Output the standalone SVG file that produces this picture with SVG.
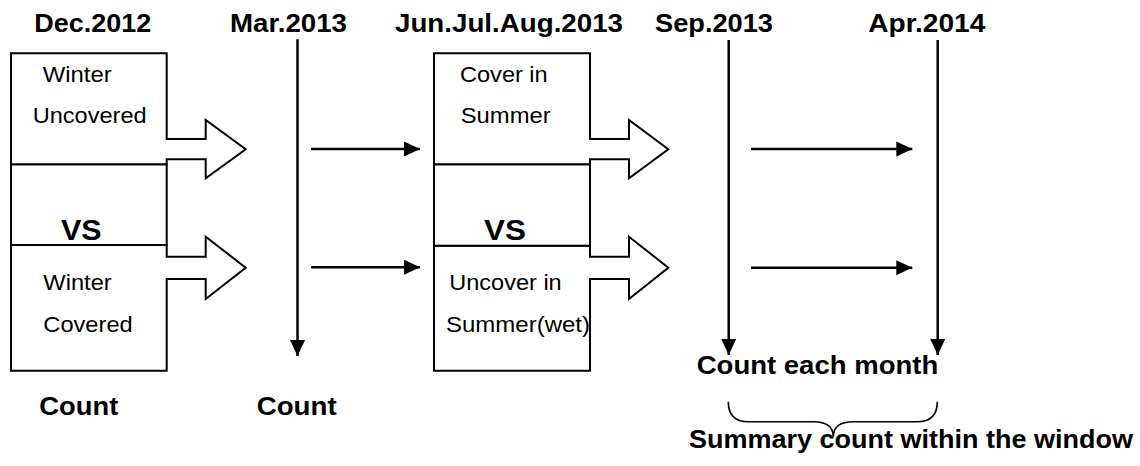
<svg xmlns="http://www.w3.org/2000/svg" width="1140" height="466" viewBox="0 0 1140 466">
<style>
.t{font-family:"Liberation Sans",Arial,sans-serif;fill:#000}
.b{font-weight:bold;font-size:26px}
.r{font-size:22.5px}
.vs{font-weight:bold;font-size:29px}
.shape{fill:#fff;stroke:#000;stroke-width:2;stroke-linejoin:miter}
.conn{fill:none;stroke:#000;stroke-width:2.5}
.brace{fill:none;stroke:#000;stroke-width:1.6}
</style>
<defs>
<marker id="ah" viewBox="0 0 16 16" refX="16" refY="8" markerWidth="16" markerHeight="16" markerUnits="userSpaceOnUse" orient="auto">
<path d="M0,0.5 L16,8 L0,15.5 Z" fill="#000"/>
</marker>
</defs>
<rect width="1140" height="466" fill="#fff"/>

<g id="titles">
<text class="t b" x="34.3" y="31.7" textLength="117" lengthAdjust="spacingAndGlyphs">Dec.2012</text>
<text class="t b" x="230" y="31.7" textLength="117" lengthAdjust="spacingAndGlyphs">Mar.2013</text>
<text class="t b" x="395" y="31.7" textLength="228" lengthAdjust="spacingAndGlyphs">Jun.Jul.Aug.2013</text>
<text class="t b" x="655" y="31.7" textLength="118" lengthAdjust="spacingAndGlyphs">Sep.2013</text>
<text class="t b" x="868.3" y="31.7" textLength="117" lengthAdjust="spacingAndGlyphs">Apr.2014</text>
</g>

<g id="winter-vs">
<path class="shape" d="M11,245 H166.7 V256.7 H205.7 V236.7 L245.7,267.7 L205.7,299 V279 H166.7 V370.7 H11 Z"/>
<rect class="shape" x="11" y="164.3" width="155.7" height="80.7"/>
<path class="shape" d="M11,53.3 H166.7 V139 H205.7 V120 L245.7,149.3 L205.7,178.3 V159.3 H166.7 V164.3 H11 Z"/>
</g>
<g id="winter-uncovered">
<text class="t r" x="42.7" y="81.7" textLength="69" lengthAdjust="spacingAndGlyphs">Winter</text>
<text class="t r" x="32.7" y="123.3" textLength="114" lengthAdjust="spacingAndGlyphs">Uncovered</text>
</g>
<g id="vs1">
<text class="t vs" x="61" y="240" textLength="40.7" lengthAdjust="spacingAndGlyphs">VS</text>
</g>
<g id="winter-covered">
<text class="t r" x="43.3" y="290" textLength="68.4" lengthAdjust="spacingAndGlyphs">Winter</text>
<text class="t r" x="43.3" y="331.7" textLength="89.4" lengthAdjust="spacingAndGlyphs">Covered</text>
</g>

<g id="summer-vs">
<path class="shape" d="M434,245.7 H590 V256.7 H629 V236.7 L668.3,267.7 L629,299 V279 H590 V370.7 H434 Z"/>
<rect class="shape" x="434" y="164.3" width="156" height="81.4"/>
<path class="shape" d="M434,53.3 H590 V139 H629 V120 L668.3,149.3 L629,178.3 V159.3 H590 V164.3 H434 Z"/>
</g>
<g id="cover-summer">
<text class="t r" x="460" y="81.7" textLength="87.7" lengthAdjust="spacingAndGlyphs">Cover in</text>
<text class="t r" x="460.7" y="122.7" textLength="90" lengthAdjust="spacingAndGlyphs">Summer</text>
</g>
<g id="vs2">
<text class="t vs" x="484" y="240" textLength="42" lengthAdjust="spacingAndGlyphs">VS</text>
</g>
<g id="uncover-summer">
<text class="t r" x="449.3" y="290" textLength="112.4" lengthAdjust="spacingAndGlyphs">Uncover in</text>
<text class="t r" x="446" y="331.7" textLength="144" lengthAdjust="spacingAndGlyphs">Summer(wet)</text>
</g>

<g id="labels">
<text class="t b" x="39.3" y="415" textLength="79" lengthAdjust="spacingAndGlyphs">Count</text>
<text class="t b" x="256.7" y="415" textLength="80" lengthAdjust="spacingAndGlyphs">Count</text>
<text class="t b" x="696.7" y="374" textLength="241.6" lengthAdjust="spacingAndGlyphs">Count each month</text>
<text class="t b" x="689" y="448.3" textLength="444" lengthAdjust="spacingAndGlyphs">Summary count within the window</text>
</g>

<g id="connectors">
<line class="conn" x1="297.5" y1="39.3" x2="297.5" y2="356" marker-end="url(#ah)"/>
<line class="conn" x1="728.7" y1="40" x2="728.7" y2="355" marker-end="url(#ah)"/>
<line class="conn" x1="937.7" y1="40" x2="937.7" y2="355" marker-end="url(#ah)"/>
<line class="conn" x1="311" y1="149" x2="420" y2="149" marker-end="url(#ah)"/>
<line class="conn" x1="311" y1="267.3" x2="420" y2="267.3" marker-end="url(#ah)"/>
<line class="conn" x1="751" y1="149" x2="912.3" y2="149" marker-end="url(#ah)"/>
<line class="conn" x1="751" y1="267.7" x2="912.3" y2="267.7" marker-end="url(#ah)"/>
<path class="brace" d="M728.3,401.7 Q728.3,421.7 748.3,421.7 H813.3 Q833.3,421.7 833.3,436.7 Q833.3,421.7 853.3,421.7 H917.3 Q937.3,421.7 937.3,401.7"/>
</g>
</svg>
